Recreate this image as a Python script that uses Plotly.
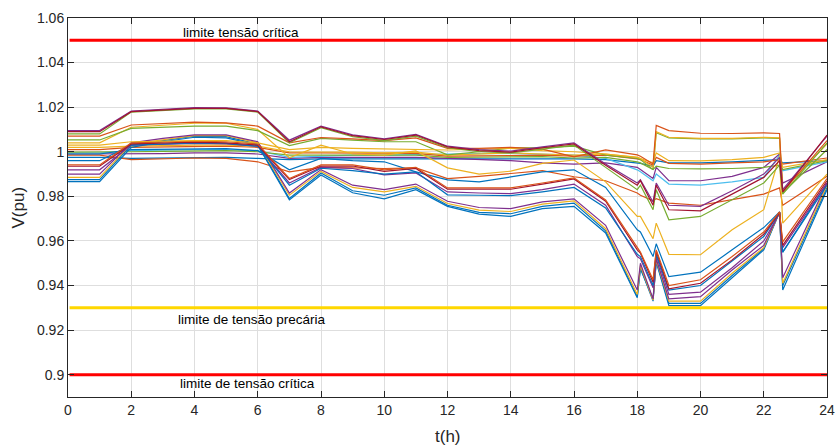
import plotly.graph_objects as go

T = [0, 1, 2, 3, 4, 5, 6, 7, 8, 9, 10, 11, 12, 13, 14, 15, 16, 17, 18, 18.1, 18.5, 18.6, 19, 20, 21, 22, 22.5, 22.6, 24]

A1 = [1.0090,1.0090,1.0180,1.0188,1.0195,1.0195,1.0180,1.0045,1.0112,1.0072,1.0055,1.0075,1.0022,1.0005,0.9998,1.0018,1.0035,0.9940,0.9850,0.9870,0.9760,0.9850,0.9740,0.9735,0.9810,0.9885,0.9960,0.9820,1.0075]
A2 = [1.0095,1.0095,1.0183,1.0190,1.0198,1.0197,1.0183,1.0052,1.0115,1.0076,1.0058,1.0078,1.0025,1.0010,1.0003,1.0022,1.0040,0.9945,0.9860,0.9875,0.9775,0.9860,0.9760,0.9755,0.9825,0.9900,0.9975,0.9830,1.0070]
A3 = [1.0080,1.0080,1.0178,1.0185,1.0192,1.0192,1.0178,1.0040,1.0108,1.0068,1.0050,1.0070,1.0018,1.0000,0.9995,1.0012,1.0030,0.9930,0.9830,0.9850,0.9740,0.9830,0.9695,0.9710,0.9785,0.9860,0.9940,0.9810,1.0040]
B1 = [1.0070,1.0070,1.0120,1.0125,1.0133,1.0130,1.0115,1.0040,1.0064,1.0058,1.0050,1.0062,1.0015,1.0015,1.0020,1.0012,0.9977,1.0008,0.9986,0.9980,0.9945,1.0118,1.0095,1.0083,1.0082,1.0085,1.0082,0.9820,1.0050]
B2 = [1.0030,1.0030,1.0045,1.0048,1.0050,1.0050,1.0040,1.0010,1.0020,1.0015,1.0012,1.0010,1.0008,1.0012,1.0015,1.0005,1.0000,0.9990,0.9975,0.9970,0.9930,1.0090,1.0065,1.0060,1.0060,1.0065,1.0062,0.9825,1.0035]
B3 = [1.0053,1.0053,1.0105,1.0110,1.0115,1.0115,1.0095,1.0028,1.0060,1.0052,1.0045,1.0045,0.9986,1.0000,1.0017,1.0017,1.0025,0.9985,0.9970,0.9965,0.9920,1.0085,1.0062,1.0058,1.0058,1.0062,1.0060,0.9815,1.0010]
E3 = [1.0040,1.0040,1.0110,1.0118,1.0128,1.0128,1.0100,0.9973,1.0030,0.9990,0.9985,1.0004,0.9928,0.9900,0.9913,0.9948,0.9963,0.9865,0.9710,0.9710,0.9610,0.9680,0.9540,0.9538,0.9650,0.9740,0.9980,0.9680,0.9900]
CU1 = [0.9941,0.9941,1.0040,1.0045,1.0048,1.0045,1.0035,0.9880,0.9941,0.9941,0.9919,0.9930,0.9838,0.9838,0.9838,0.9860,0.9883,0.9784,0.9570,0.9550,0.9426,0.9560,0.9400,0.9426,0.9530,0.9640,0.9730,0.9596,0.9880]
CU2 = [0.9935,0.9935,1.0035,1.0040,1.0043,1.0040,1.0030,0.9875,0.9936,0.9936,0.9912,0.9925,0.9832,0.9832,0.9832,0.9855,0.9878,0.9778,0.9560,0.9545,0.9415,0.9555,0.9385,0.9410,0.9515,0.9630,0.9728,0.9580,0.9870]
CU3 = [0.9960,0.9960,1.0030,1.0035,1.0040,1.0038,1.0025,0.9850,0.9926,0.9915,0.9900,0.9910,0.9807,0.9805,0.9803,0.9820,0.9840,0.9748,0.9540,0.9530,0.9400,0.9540,0.9380,0.9400,0.9510,0.9620,0.9728,0.9550,0.9850]
CU4 = [0.9919,0.9919,1.0030,1.0035,1.0038,1.0035,1.0025,0.9860,0.9930,0.9925,0.9896,0.9905,0.9820,0.9815,0.9812,0.9830,0.9855,0.9760,0.9530,0.9520,0.9390,0.9535,0.9360,0.9370,0.9480,0.9600,0.9725,0.9570,0.9860]
CL1 = [0.9900,0.9900,1.0040,1.0060,1.0076,1.0076,1.0045,0.9815,0.9920,0.9850,0.9830,0.9855,0.9778,0.9750,0.9745,0.9775,0.9789,0.9670,0.9380,0.9500,0.9340,0.9520,0.9340,0.9350,0.9470,0.9580,0.9730,0.9435,0.9860]
CL2 = [0.9885,0.9885,1.0035,1.0055,1.0072,1.0072,1.0040,0.9805,0.9912,0.9840,0.9820,0.9845,0.9768,0.9738,0.9732,0.9765,0.9780,0.9655,0.9360,0.9490,0.9335,0.9515,0.9330,0.9330,0.9455,0.9570,0.9730,0.9410,0.9850]
CL3 = [0.9875,0.9875,1.0030,1.0050,1.0070,1.0068,1.0035,0.9790,0.9905,0.9825,0.9805,0.9838,0.9760,0.9728,0.9722,0.9755,0.9770,0.9645,0.9350,0.9480,0.9330,0.9510,0.9320,0.9320,0.9445,0.9565,0.9730,0.9400,0.9840]
CL4 = [0.9866,0.9866,1.0020,1.0045,1.0065,1.0062,1.0030,0.9784,0.9896,0.9816,0.9789,0.9830,0.9755,0.9720,0.9710,0.9745,0.9755,0.9636,0.9345,0.9475,0.9340,0.9505,0.9310,0.9310,0.9435,0.9560,0.9730,0.9380,0.9830]
E1 = [0.9985,0.9985,0.9965,0.9968,0.9972,0.9970,0.9955,0.9910,0.9930,0.9928,0.9925,0.9928,0.9880,0.9890,0.9904,0.9915,0.9888,0.9870,0.9815,0.9805,0.9780,0.9790,0.9770,0.9760,0.9785,0.9810,0.9838,0.9760,0.9890]
E2 = [0.9990,0.9990,1.0010,1.0012,1.0015,1.0014,1.0005,0.9919,0.9970,0.9960,0.9955,0.9910,0.9874,0.9865,0.9887,0.9910,0.9919,0.9840,0.9650,0.9640,0.9530,0.9587,0.9440,0.9460,0.9560,0.9660,0.9730,0.9550,0.9860]
D1 = [1.0020,1.0020,1.0025,1.0028,1.0030,1.0030,1.0025,1.0000,1.0000,0.9998,0.9995,0.9998,0.9985,0.9990,0.9995,0.9990,0.9985,0.9990,0.9975,0.9970,0.9950,0.9995,0.9960,0.9959,0.9965,0.9975,0.9995,0.9930,0.9965]
D2 = [1.0010,1.0010,1.0020,1.0022,1.0025,1.0025,1.0020,0.9995,0.9995,0.9995,0.9993,0.9993,0.9980,0.9982,0.9985,0.9985,0.9980,0.9985,0.9968,0.9965,0.9940,0.9975,0.9948,0.9945,0.9950,0.9955,0.9965,0.9945,0.9972]
D3 = [0.9998,0.9998,1.0000,1.0002,1.0005,1.0005,1.0000,0.9985,0.9985,0.9985,0.9983,0.9985,0.9975,0.9975,0.9978,0.9978,0.9972,0.9975,0.9955,0.9950,0.9920,0.9935,0.9925,0.9923,0.9925,0.9930,0.9940,0.9920,0.9960]
D4 = [0.9995,0.9995,1.0005,1.0008,1.0010,1.0010,1.0005,0.9975,0.9980,0.9985,0.9985,0.9988,0.9990,0.9992,0.9993,0.9990,0.9985,0.9970,0.9919,0.9910,0.9870,0.9900,0.9855,0.9850,0.9865,0.9885,0.9985,0.9915,0.9955]
D5 = [0.9990,0.9990,0.9990,0.9992,0.9995,0.9995,0.9990,0.9970,0.9975,0.9975,0.9975,0.9975,0.9970,0.9965,0.9960,0.9950,0.9945,0.9950,0.9930,0.9920,0.9880,0.9930,0.9870,0.9870,0.9890,0.9930,0.9990,0.9860,0.9955]
D6 = [0.9975,0.9975,0.9970,0.9972,0.9975,0.9975,0.9970,0.9965,0.9968,0.9968,0.9968,0.9968,0.9968,0.9968,0.9970,0.9970,0.9968,0.9965,0.9950,0.9948,0.9935,0.9960,0.9950,0.9950,0.9955,0.9960,0.9965,0.9950,0.9960]

series = [
    (D6, "#0072BD"), (D5, "#7E2F8E"), (D4, "#4DBEEE"), (D3, "#77AC30"), (D2, "#D95319"), (D1, "#EDB120"),
    (E1, "#D95319"), (E2, "#0072BD"), (E3, "#EDB120"),
    (CL4, "#0072BD"), (CL3, "#0072BD"), (CL2, "#EDB120"), (CL1, "#7E2F8E"),
    (CU4, "#7E2F8E"), (CU3, "#0072BD"), (CU2, "#A2142F"), (CU1, "#D95319"),
    (B3, "#77AC30"), (B2, "#EDB120"), (B1, "#D95319"),
    (A3, "#77AC30"), (A2, "#7E2F8E"), (A1, "#A2142F"),
]

LIM_T = [0.05, 24]
LIM_CRIT_HI = 1.05
LIM_PREC = 0.93
LIM_CRIT_LO = 0.9

fig = go.Figure()
for vals, col in series:
    fig.add_trace(go.Scatter(x=T, y=vals, mode="lines", line=dict(color=col, width=1.2), showlegend=False, hoverinfo="skip"))

for lv, col in [(LIM_CRIT_HI, "#FF0000"), (LIM_PREC, "#FFD700"), (LIM_CRIT_LO, "#FF0000")]:
    fig.add_trace(go.Scatter(x=LIM_T, y=[lv, lv], mode="lines", line=dict(color=col, width=3), showlegend=False, hoverinfo="skip"))

ann_font = dict(size=13.5, color="black", family="Liberation Sans, Arial, sans-serif")
fig.add_annotation(x=5.48, y=1.0533, text="limite tensão crítica", showarrow=False, font=ann_font)
fig.add_annotation(x=5.83, y=0.9248, text="limite de tensão precária", showarrow=False, font=ann_font)
fig.add_annotation(x=5.66, y=0.8961, text="limite de tensão crítica", showarrow=False, font=ann_font)

# axis titles
fig.add_annotation(x=-50 / 759, y=0.5, xref="paper", yref="paper", text="V(pu)", showarrow=False,
                   textangle=-90, xanchor="center", yanchor="middle", font=dict(size=17, color="#262626"))
fig.add_annotation(x=0.5, y=-39 / 379, xref="paper", yref="paper", text="t(h)", showarrow=False,
                   xanchor="center", yanchor="middle", font=dict(size=17, color="#262626"))

x_ticks = list(range(0, 25, 2))
y_ticks = [0.9, 0.92, 0.94, 0.96, 0.98, 1.0, 1.02, 1.04, 1.06]
y_labels = ["0.9", "0.92", "0.94", "0.96", "0.98", "1", "1.02", "1.04", "1.06"]

axis_common = dict(showline=True, linecolor="#262626", linewidth=1, mirror="ticks", ticks="inside",
                   ticklen=6, tickcolor="#262626", showgrid=True, gridcolor="#DEDEDE", gridwidth=1,
                   zeroline=False, tickfont=dict(size=14, color="#262626"), automargin=False)

fig.update_xaxes(range=[0, 24], tickvals=x_ticks, **axis_common)
fig.update_yaxes(range=[0.89, 1.06], tickvals=y_ticks, ticktext=y_labels, **axis_common)

fig.update_layout(width=837, height=446, margin=dict(l=68, r=10, t=18, b=49),
                  paper_bgcolor="white", plot_bgcolor="white",
                  font=dict(family="Liberation Sans, Arial, sans-serif"))

fig.write_html("out.html", config={"displayModeBar": False},
               post_script="document.body.style.margin='0px';document.body.style.overflow='hidden';")
